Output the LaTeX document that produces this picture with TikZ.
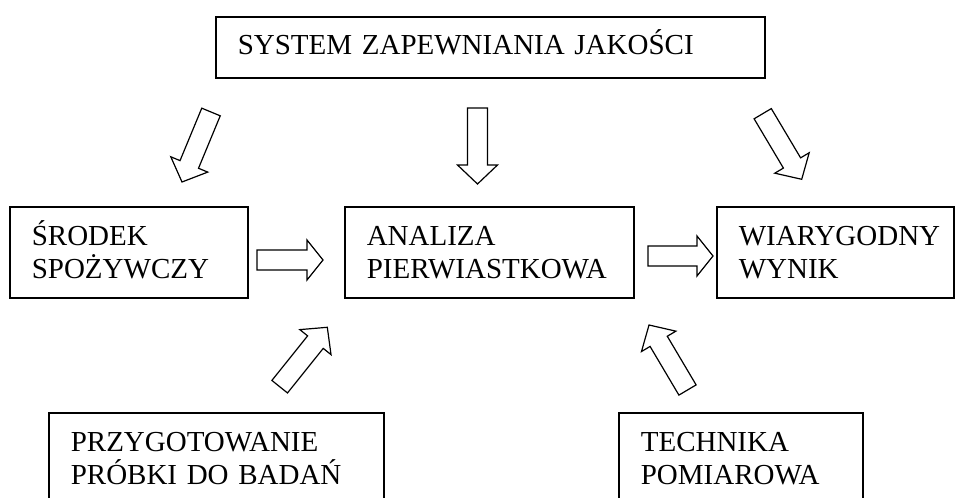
\documentclass[tikz,border=0pt]{standalone}
\usepackage{fontspec}
\setmainfont{Liberation Serif}
\usetikzlibrary{calc}
\uchyph=0
% fixed-height strut so every line of a box sits on the same grid
\newcommand\tstrut{\rule[-5pt]{0pt}{24pt}}
% deeper strut for the one-line title box
\newcommand\tistrut{\rule[-8pt]{0pt}{27pt}}
% hollow block arrow from tail (#1) to tip (#2), head length #3
\newcommand\blockarrow[3]{%
  \coordinate (#1-neck) at ($(#2)!#3!(#1)$);
  \draw[barrow]
    ($(#1)!7.5pt!90:(#2)$) -- ($(#1-neck)!7.5pt!90:(#2)$) -- ($(#1-neck)!15pt!90:(#2)$) -- (#2)
    -- ($(#1-neck)!15pt!-90:(#2)$) -- ($(#1-neck)!7.5pt!-90:(#2)$) -- ($(#1)!7.5pt!-90:(#2)$) -- cycle;
}
\tikzset{
  box/.style={draw, line width=1.2pt, inner sep=0pt, align=left, anchor=north west,
    font=\fontsize{21.75pt}{24.75pt}\selectfont},
  barrow/.style={draw, line width=0.9pt, fill=white, line join=miter},
}
\begin{document}
\begin{tikzpicture}[x=0.75pt,y=-0.75pt]
  \useasboundingbox (0,0) rectangle (955,498);
  \clip (0,0) rectangle (955,498);

  % boxes
  \node[box, minimum width=411.75pt, minimum height=45.75pt, text width=378.75pt]
    (sys) at (215,16) {\tistrut SYSTEM ZAPEWNIANIA JAKOŚCI};
  \node[box, minimum width=178.5pt, minimum height=68.25pt, text width=145.5pt]
    (food) at (9,206) {\tstrut ŚRODEK\\\tstrut SPOŻYWCZY};
  \node[box, minimum width=216.75pt, minimum height=68.25pt, text width=183.75pt]
    (anal) at (344,206) {\tstrut ANALIZA\\\tstrut PIERWIASTKOWA};
  \node[box, minimum width=177.75pt, minimum height=68.25pt, text width=144.75pt]
    (res) at (716,206) {\tstrut WIARYGODNY\\\tstrut WYNIK};
  \node[box, minimum width=251.25pt, minimum height=68.25pt, text width=218.25pt]
    (prep) at (48,412) {\tstrut PRZYGOTOWANIE\\\tstrut PRÓBKI DO BADAŃ};
  \node[box, minimum width=183pt, minimum height=68.25pt, text width=150pt]
    (tech) at (618,412) {\tstrut TECHNIKA\\\tstrut POMIAROWA};

  % arrow ends
  \coordinate (a1) at (211,112);   \coordinate (b1) at (182,182);
  \coordinate (a2) at (477.5,108); \coordinate (b2) at (477.5,184);
  \coordinate (a3) at (762.7,113.7); \coordinate (b3) at (801.7,179.3);
  \coordinate (a4) at (257,260);   \coordinate (b4) at (323,260);
  \coordinate (a5) at (648,256);   \coordinate (b5) at (713,256);
  \coordinate (a6) at (279.7,386.7); \coordinate (b6) at (327.3,327.3);
  \coordinate (a7) at (687.5,390); \coordinate (b7) at (649,325);

  % block arrows
  \blockarrow{a1}{b1}{14.25pt}
  \blockarrow{a2}{b2}{14.25pt}
  \blockarrow{a3}{b3}{14.25pt}
  \blockarrow{a4}{b4}{12pt}
  \blockarrow{a5}{b5}{12pt}
  \blockarrow{a6}{b6}{14.25pt}
  \blockarrow{a7}{b7}{14.25pt}
\end{tikzpicture}
\end{document}
